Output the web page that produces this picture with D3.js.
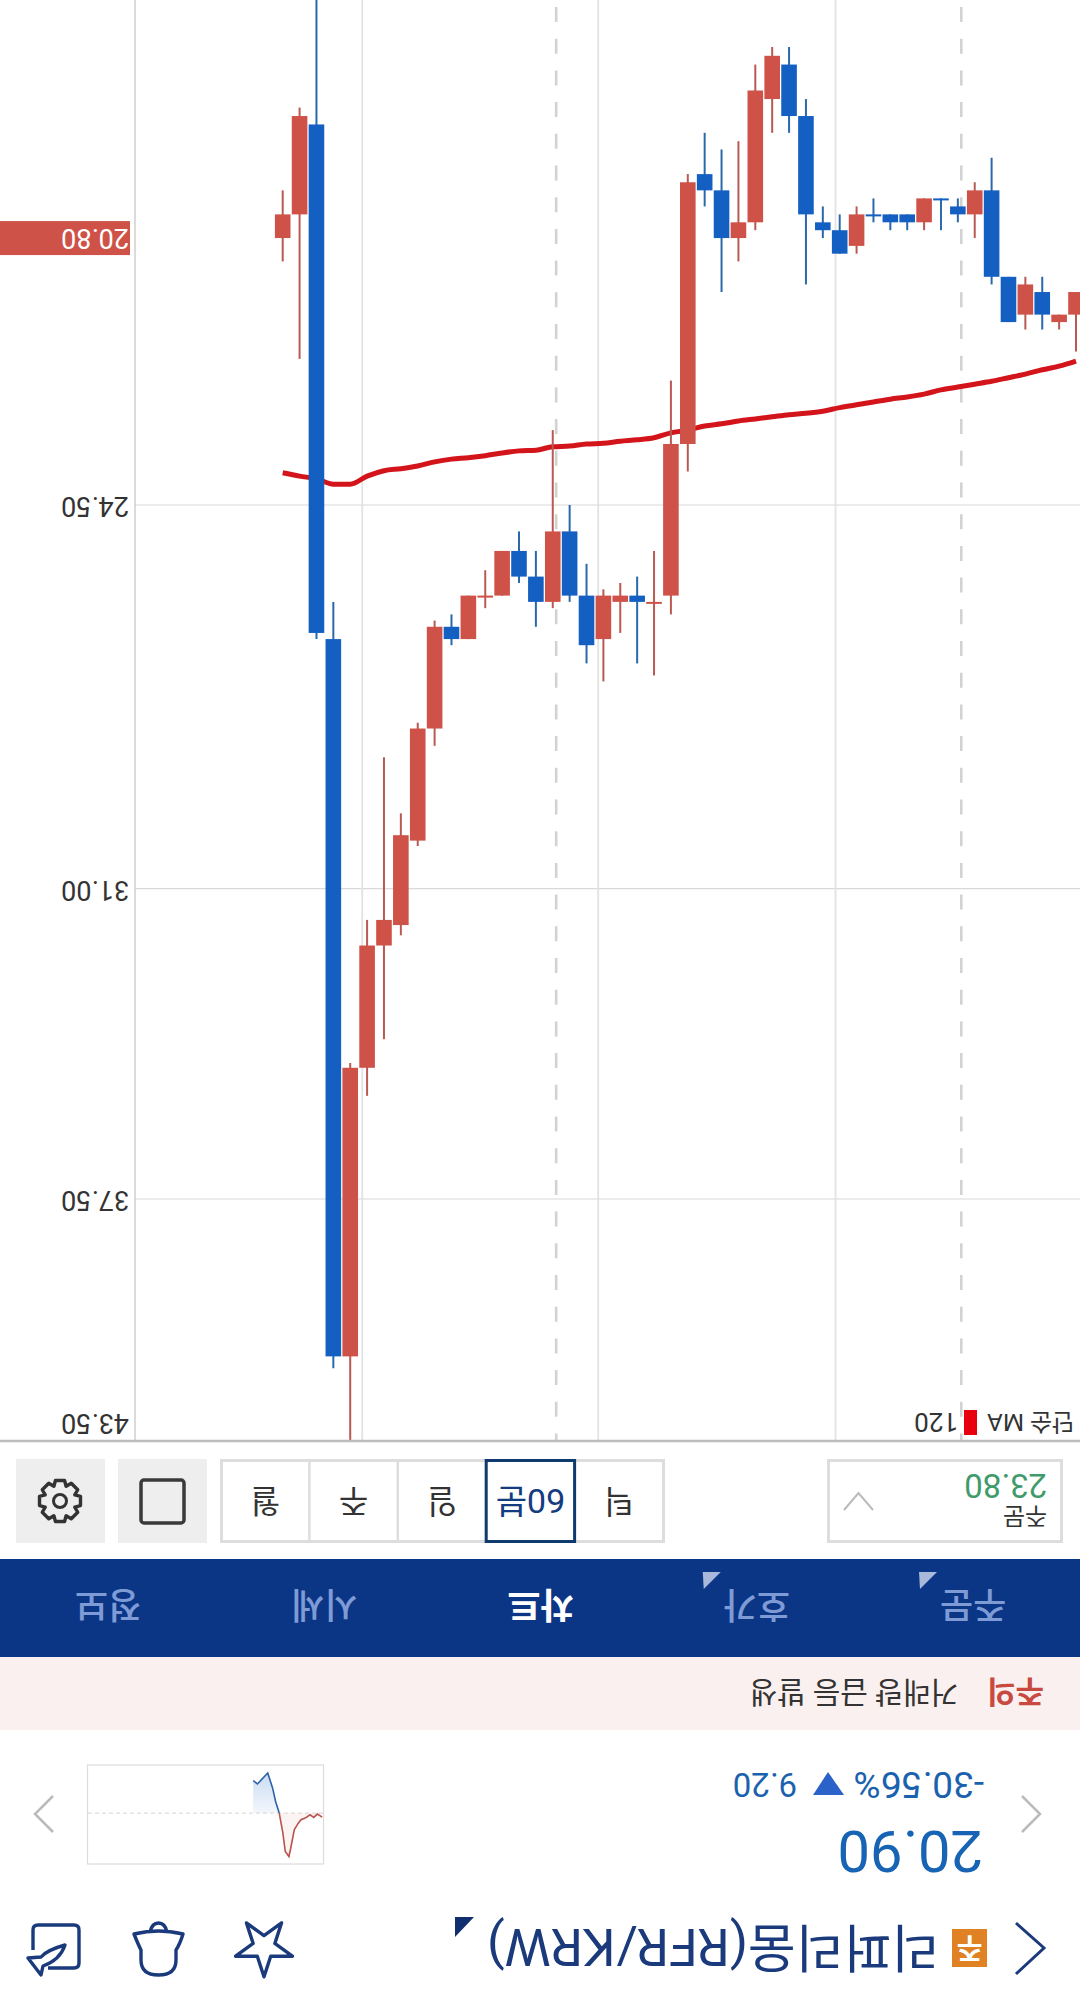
<!DOCTYPE html>
<html>
<head>
<meta charset="utf-8">
<script src="https://cdn.jsdelivr.net/npm/d3@7"></script>
<style>
  html, body { margin: 0; padding: 0; background: #fff; }
  svg { display: block; }
  text { font-family: "Roboto", "Noto Sans CJK KR", sans-serif; }
</style>
</head>
<body>
<svg id="chart" width="1080" height="1996"></svg>
<script>
// candle values, one entry per 60 minute bar
const opens = [20.5, 19.3, 26.5, 41.3, 34.6, 32.1, 31.6, 30.0, 28.1, 26.4, 26.6, 25.9, 25.9, 25.2, 25.6, 26.0,
  24.9, 25.9, 26.7, 25.9, 25.9, 26.0, 26.0, 23.6, 20.1, 20.2, 20.8, 20.6, 19.0, 18.6, 19.3, 20.5,
  20.7, 21.0, 20.5, 20.5, 20.6, 20.6, 20.3, 20.3, 20.5, 20.2, 21.3, 21.9, 21.4, 21.8, 21.8, 21.5];
const closes = [20.8, 20.5, 19.4, 26.6, 41.3, 34.6, 32.1, 31.7, 30.1, 28.1, 26.4, 26.6, 25.9, 25.9, 25.2, 25.6,
  26.0, 24.9, 25.9, 26.6, 26.0, 25.9, 26.0, 25.9, 23.6, 20.0, 20.2, 20.8, 20.6, 19.1, 18.7, 19.3,
  20.6, 20.7, 20.9, 20.5, 20.5, 20.5, 20.6, 20.3, 20.4, 20.5, 20.2, 21.3, 21.8, 21.5, 21.9, 21.8];
const highs = [21.1, 22.4, 26.6, 41.6, 44.2, 35.2, 34.0, 31.9, 30.2, 28.4, 26.7, 26.6, 26.1, 25.9, 25.7, 26.4,
  26.1, 26.0, 27.0, 27.3, 26.5, 27.0, 27.2, 26.2, 24.0, 20.4, 21.5, 21.1, 20.7, 19.5, 19.5, 21.4,
  20.8, 21.0, 21.0, 20.6, 20.7, 20.7, 20.7, 20.7, 20.6, 20.8, 21.4, 21.9, 22.0, 22.0, 22.0, 22.3];
const lows = [20.2, 19.2, 17.7, 26.0, 34.5, 31.6, 28.6, 29.6, 28.0, 26.3, 26.2, 25.9, 25.5, 25.2, 24.9, 25.2,
  23.4, 24.5, 25.4, 25.8, 25.7, 25.6, 25.2, 22.7, 20.0, 19.5, 19.7, 19.6, 18.7, 18.5, 18.5, 19.1,
  20.4, 20.5, 20.4, 20.3, 20.5, 20.5, 20.3, 20.3, 20.3, 20.1, 19.8, 21.3, 21.3, 21.3, 21.8, 21.5];
// bars with open == close that still count as falling
const flatDown = [35, 39];

const ma120 = [24.02, 24.07, 24.11, 24.19, 24.19, 24.07, 23.99, 23.96, 23.92, 23.86, 23.82, 23.80, 23.77, 23.73, 23.70, 23.69,
  23.64, 23.63, 23.60, 23.59, 23.56, 23.54, 23.51, 23.44, 23.40, 23.34, 23.31, 23.27, 23.24, 23.21, 23.18, 23.16,
  23.13, 23.08, 23.04, 23.00, 22.96, 22.93, 22.89, 22.83, 22.79, 22.75, 22.71, 22.66, 22.61, 22.55, 22.50, 22.43];

const priceTicks = [24.5, 31, 37.5, 43.5];
const gridPrices = [24.5, 31, 37.5];
const lastPrice = 20.8;
const solidTimes = [4.76, 18.74, 32.8];
const dashedTimes = [16.25, 40.25];

// intraday sparkline
const sparkTimes = [3, 11, 17, 23, 31, 38, 43, 49, 55, 58, 64, 68, 74, 80, 85, 93, 110, 117];
const sparkValues = [31.3, 30.4, 31.4, 30.6, 31.6, 32.1, 33.3, 35.1, 40.7, 43.2, 41.7, 36.1, 30.1, 26.6, 22.5, 18.0, 21.3, 20.3];
const sparkBase = 30.1;

const periods = ['월', '주', '일', '60분', '틱'];
const navItems = ['정보', '시세', '차트', '호가', '주문'];

const RED = '#cf5248', BLUE = '#1460c2', NAVY = '#1a3a7c';
const svg = d3.select('#chart');

// rotated text helper, the whole screenshot is upside down
function flipText(parent, x, y, str, size, color, anchor, weight) {
  return parent.append('text')
    .attr('transform', 'translate(' + x + ',' + y + ') rotate(180)')
    .attr('text-anchor', anchor || 'middle')
    .attr('dy', '0.35em')
    .attr('font-size', size)
    .attr('font-weight', weight || 400)
    .attr('fill', color)
    .text(str);
}

// scales
const x = d3.scaleLinear().domain([0, opens.length - 1]).range([282.7, 1076]);
const y = d3.scaleLog().domain([24.5, 43.5]).range([505, 1441]);
const bodyWidth = 15.6;

svg.append('clipPath').attr('id', 'plot')
  .append('rect').attr('width', 1080).attr('height', 1441);
const plot = svg.append('g').attr('clip-path', 'url(#plot)');

// grid
plot.selectAll('.hgrid').data(gridPrices).enter().append('line')
  .attr('x1', 135).attr('x2', 1080)
  .attr('y1', d => y(d)).attr('y2', d => y(d))
  .attr('stroke', '#d9d9d9').attr('stroke-width', 1.2);
plot.selectAll('.vgrid').data(solidTimes).enter().append('line')
  .attr('x1', d => x(d) - 0.8).attr('x2', d => x(d) - 0.8)
  .attr('y1', 0).attr('y2', 1441)
  .attr('stroke', '#e2e2e2').attr('stroke-width', 1.8);
plot.selectAll('.dgrid').data(dashedTimes).enter().append('line')
  .attr('x1', d => x(d) - 0.8).attr('x2', d => x(d) - 0.8)
  .attr('y1', 7).attr('y2', 1441)
  .attr('stroke', '#d2d2d2').attr('stroke-width', 2.6)
  .attr('stroke-dasharray', '15 16.7');

// moving average sits under the candles
const maLine = d3.line().x((d, i) => x(i)).y(d => y(d)).curve(d3.curveMonotoneX);
plot.append('path').datum(ma120)
  .attr('d', maLine)
  .attr('fill', 'none')
  .attr('stroke', '#d3141a')
  .attr('stroke-width', 5);

// candles
const isUp = i => closes[i] > opens[i] || (closes[i] === opens[i] && !flatDown.includes(i));
const candle = plot.selectAll('.candle').data(d3.range(opens.length)).enter().append('g');
candle.append('line')
  .attr('x1', i => x(i)).attr('x2', i => x(i))
  .attr('y1', i => y(lows[i])).attr('y2', i => y(highs[i]))
  .attr('stroke', i => isUp(i) ? '#b85a52' : '#2a68ac')
  .attr('stroke-width', 2);
candle.append('rect')
  .attr('x', i => x(i) - bodyWidth / 2)
  .attr('width', bodyWidth)
  .attr('y', i => y(Math.min(opens[i], closes[i])))
  .attr('height', i => Math.max(2, y(Math.max(opens[i], closes[i])) - y(Math.min(opens[i], closes[i]))))
  .attr('fill', i => isUp(i) ? RED : BLUE);

// price axis
svg.append('line').attr('x1', 135).attr('x2', 135).attr('y1', 0).attr('y2', 1441)
  .attr('stroke', '#cfcfcf').attr('stroke-width', 1.5);
const axis = svg.append('g').attr('transform', 'translate(129,0)')
  .call(d3.axisRight(y).tickValues(priceTicks).tickSize(0).tickPadding(0).tickFormat(d3.format('.2f')));
axis.select('.domain').remove();
axis.selectAll('text')
  .attr('transform', 'rotate(180)')
  .attr('text-anchor', 'start')
  .attr('font-family', 'Roboto, sans-serif')
  .attr('font-size', 27)
  .attr('fill', '#333');
axis.selectAll('text').filter(d => d === 43.5).attr('y', 19);

// last price tag
svg.append('rect').attr('x', 0).attr('width', 130)
  .attr('y', y(lastPrice) - 17).attr('height', 34).attr('fill', RED);
flipText(svg, 129, y(lastPrice), d3.format('.2f')(lastPrice), 27, '#fff', 'start');

// moving average legend
flipText(svg, 1074, 1422, '단순 MA', 24, '#333', 'start');
svg.append('rect').attr('x', 964).attr('y', 1410).attr('width', 13).attr('height', 25).attr('fill', '#e8000f');
flipText(svg, 958, 1422, '120', 26, '#333', 'start');

svg.append('line').attr('x1', 0).attr('x2', 1080).attr('y1', 1441).attr('y2', 1441)
  .attr('stroke', '#bdbdbd').attr('stroke-width', 2.5);

// control row
const ctrl = svg.append('g');
ctrl.append('rect').attr('x', 16).attr('y', 1459).attr('width', 89).attr('height', 84).attr('fill', '#eee');
ctrl.append('rect').attr('x', 118).attr('y', 1459).attr('width', 89).attr('height', 84).attr('fill', '#eee');
ctrl.append('rect').attr('x', 141).attr('y', 1480).attr('width', 43).attr('height', 43).attr('rx', 3)
  .attr('fill', 'none').attr('stroke', '#3a3a3a').attr('stroke-width', 3.5);

// gear outline
const gearPts = [];
d3.range(8).forEach(k => {
  const a = k * Math.PI / 4;
  [[-0.39, 16], [-0.22, 21], [0.22, 21], [0.39, 16]].forEach(p => gearPts.push([a + p[0], p[1]]));
});
ctrl.append('path')
  .attr('transform', 'translate(60,1501)')
  .attr('d', d3.lineRadial().angle(d => d[0]).radius(d => d[1]).curve(d3.curveLinearClosed)(gearPts))
  .attr('fill', 'none').attr('stroke', '#333').attr('stroke-width', 3.4).attr('stroke-linejoin', 'round');
ctrl.append('circle').attr('cx', 60).attr('cy', 1501).attr('r', 6.5)
  .attr('fill', 'none').attr('stroke', '#333').attr('stroke-width', 3);

// period buttons
const periodX = d3.scaleBand().domain(periods).range([221, 663]);
ctrl.append('rect').attr('x', 221.5).attr('y', 1460.5).attr('width', 442).attr('height', 81)
  .attr('fill', '#fff').attr('stroke', '#ddd').attr('stroke-width', 3);
periods.slice(1).forEach(p => {
  ctrl.append('line').attr('x1', periodX(p)).attr('x2', periodX(p)).attr('y1', 1460).attr('y2', 1542)
    .attr('stroke', '#ddd').attr('stroke-width', 2.5);
});
ctrl.append('rect').attr('x', periodX('60분')).attr('y', 1460.5)
  .attr('width', periodX.bandwidth()).attr('height', 81)
  .attr('fill', '#fff').attr('stroke', '#0f3a6e').attr('stroke-width', 3);
periods.forEach(p => {
  flipText(ctrl, periodX(p) + periodX.bandwidth() / 2, 1501, p, p === '60분' ? 34 : 32, p === '60분' ? '#143c80' : '#333');
});

// order box
ctrl.append('rect').attr('x', 828.5).attr('y', 1460.5).attr('width', 233).attr('height', 81)
  .attr('fill', '#fff').attr('stroke', '#ddd').attr('stroke-width', 3);
flipText(ctrl, 1047, 1486, '23.80', 33, '#3f9a6c', 'start');
flipText(ctrl, 1047, 1516, '주문', 24, '#333', 'start');
ctrl.append('path').attr('d', 'M844 1510 L858.5 1493 L873 1510')
  .attr('fill', 'none').attr('stroke', '#bbb').attr('stroke-width', 2);

// nav bar
const nav = svg.append('g');
const navX = d3.scalePoint().domain(navItems).range([108, 973]);
nav.append('rect').attr('y', 1559).attr('width', 1080).attr('height', 98).attr('fill', '#0b3686');
navItems.forEach(n => {
  const active = n === '차트';
  flipText(nav, navX(n), 1605, n, 36, active ? '#fff' : '#7f9bd6', 'middle', active ? 700 : 500);
});
['호가', '주문'].forEach(n => {
  const tx = navX(n) - 54;
  nav.append('path').attr('d', 'M' + tx + ' 1572 h18 L' + (tx + 1) + ' 1589 Z')
    .attr('fill', '#a9b9db');
});

// warning strip
svg.append('rect').attr('y', 1657).attr('width', 1080).attr('height', 73).attr('fill', '#faf0ef');
flipText(svg, 1044, 1692, '주의', 31, '#c8493f', 'start', 700);
flipText(svg, 958, 1692, '거래량 급등 발생', 30, '#333', 'start');

// sparkline card
const spark = svg.append('g');
const sx = d3.scaleLinear().domain([0, 390]).range([324, 88]);
const sy = d3.scaleLinear().domain([18, 43.5]).range([1773, 1857.5]);
const sparkData = sparkTimes.map((t, i) => ({ t: t, v: sparkValues[i] }));
const redPart = sparkData.filter(d => d.t <= 74);
const bluePart = sparkData.filter(d => d.t >= 74);

const grad = svg.append('linearGradient').attr('id', 'blueFade').attr('x1', 0).attr('x2', 0).attr('y1', 0).attr('y2', 1);
grad.append('stop').attr('offset', '0%').attr('stop-color', '#c9dcf3');
grad.append('stop').attr('offset', '100%').attr('stop-color', '#f3f7fc');

spark.append('rect').attr('x', 87.5).attr('y', 1765).attr('width', 236).attr('height', 99)
  .attr('fill', '#fff').attr('stroke', '#ddd').attr('stroke-width', 1.2);
const sArea = d3.area().x(d => sx(d.t)).y0(sy(sparkBase)).y1(d => sy(d.v));
spark.append('path').datum(bluePart).attr('d', sArea).attr('fill', 'url(#blueFade)');
spark.append('path').datum(redPart).attr('d', sArea).attr('fill', '#fcf4f3');
spark.append('line').attr('x1', 88).attr('x2', 324).attr('y1', sy(sparkBase)).attr('y2', sy(sparkBase))
  .attr('stroke', '#d5d5d5').attr('stroke-dasharray', '4 3');
const sLine = d3.line().x(d => sx(d.t)).y(d => sy(d.v));
spark.append('path').datum(redPart).attr('d', sLine).attr('fill', 'none').attr('stroke', '#b8544d').attr('stroke-width', 1.6);
spark.append('path').datum(bluePart).attr('d', sLine).attr('fill', 'none').attr('stroke', '#2b62aa').attr('stroke-width', 1.6);

// price summary
svg.append('path').attr('d', 'M53 1796 L35 1814 L53 1832').attr('fill', 'none').attr('stroke', '#bbb').attr('stroke-width', 2.5);
svg.append('path').attr('d', 'M1022 1796 L1040 1814 L1022 1832').attr('fill', 'none').attr('stroke', '#bbb').attr('stroke-width', 2.5);
flipText(svg, 983, 1851, '20.90', 58, '#1764b4', 'start');
flipText(svg, 984, 1785, '-30.56%', 37, '#1a62ae', 'start');
flipText(svg, 797, 1785, '9.20', 33, '#1a62ae', 'start');
svg.append('path').attr('d', 'M828 1772 L844 1795 L813 1795 Z').attr('fill', '#2a62c9');

// title row
svg.append('path').attr('d', 'M1016 1923 L1044 1948 L1016 1974').attr('fill', 'none').attr('stroke', NAVY).attr('stroke-width', 3);
svg.append('rect').attr('x', 952).attr('y', 1929).attr('width', 35).attr('height', 38).attr('fill', '#e08124');
flipText(svg, 969.5, 1948, '주', 28, '#fff', 'middle', 700);
flipText(svg, 939, 1947, '리퍼리움(RFR/KRW)', 52, NAVY, 'start');
svg.append('path').attr('d', 'M455 1917 h19 L455 1937 Z').attr('fill', '#0f2f6e');

// star, bell, share icons
const iconStyle = s => s.attr('fill', 'none').attr('stroke', NAVY).attr('stroke-width', 3.4).attr('stroke-linejoin', 'round');
svg.append('path')
  .attr('transform', 'translate(264,1947) rotate(180)')
  .attr('d', d3.symbol().type(d3.symbolStar).size(1000)())
  .call(iconStyle);
svg.append('path')
  .attr('d', 'M134 1934 Q138 1944 141 1950 L141 1960 Q141 1975 158.5 1975 Q176 1975 176 1960 L176 1950 Q180 1944 183 1934 Q170 1931 158.5 1931 Q147 1931 134 1934 Z M150 1932 Q152 1923 158.5 1923 Q165 1923 167 1932')
  .call(iconStyle);
svg.append('path')
  .attr('d', 'M33 1950 L33 1930 Q33 1925 38 1925 L74 1925 Q79 1925 79 1930 L79 1963 Q79 1968 74 1968 L48 1968')
  .call(iconStyle);
svg.append('path')
  .attr('d', 'M65 1945 Q47 1950 41 1957 L28 1958 L41 1975 L43 1966 Q60 1960 65 1945 Z')
  .call(iconStyle);
</script>
</body>
</html>
